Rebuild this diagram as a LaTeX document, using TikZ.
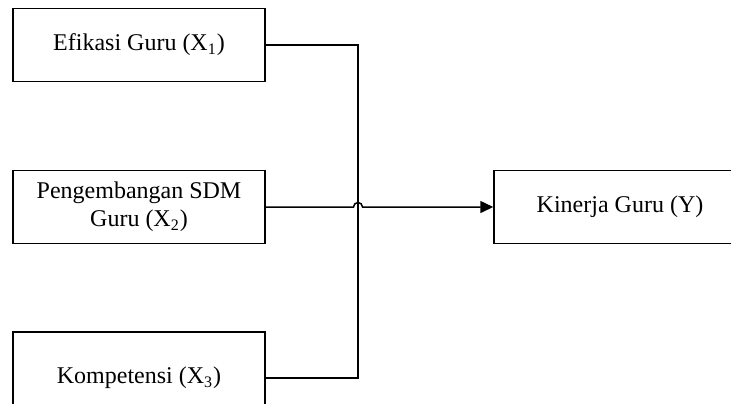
\documentclass[tikz,border=0pt]{standalone}
\usepackage{fontspec}
\setmainfont{Liberation Serif}
\usetikzlibrary{arrows.meta}

\tikzset{
    varbox/.style={draw,line width=0.75pt,minimum width=126pt,minimum height=36.5pt,
                   align=center,font=\fontsize{12}{13.8}\selectfont},
    link/.style={line width=0.75pt}
}

\begin{document}
\begin{tikzpicture}[x=0.5pt,y=-0.5pt]
    % Frame
    \clip (0,0) rectangle (731,403);
    % Variables
    \node[varbox] (efikasi) at (139,45) {Efikasi Guru (X\textsubscript{1})};
    \node[varbox] (sdm) at (139,207) {Pengembangan SDM\\Guru (X\textsubscript{2})};
    \node[varbox,minimum height=46pt] (kompetensi) at (139,378) {Kompetensi (X\textsubscript{3})};
    \node[varbox] (kinerja) at (620,207) {Kinerja Guru (Y)};
    % Bus line
    \coordinate (busTop) at (358,45);
    \coordinate (busBot) at (358,378);
    \coordinate (hop) at (353.5,207);
    \draw[link] (efikasi.east) -- (busTop) -- (busBot) -- (kompetensi.east);
    % Arrow with line jump
    \draw[link,-{Triangle[length=6.5pt,width=6pt]}] (sdm.east) -- (hop) arc (180:360:4.5) -- (kinerja.west);
\end{tikzpicture}
\end{document}
